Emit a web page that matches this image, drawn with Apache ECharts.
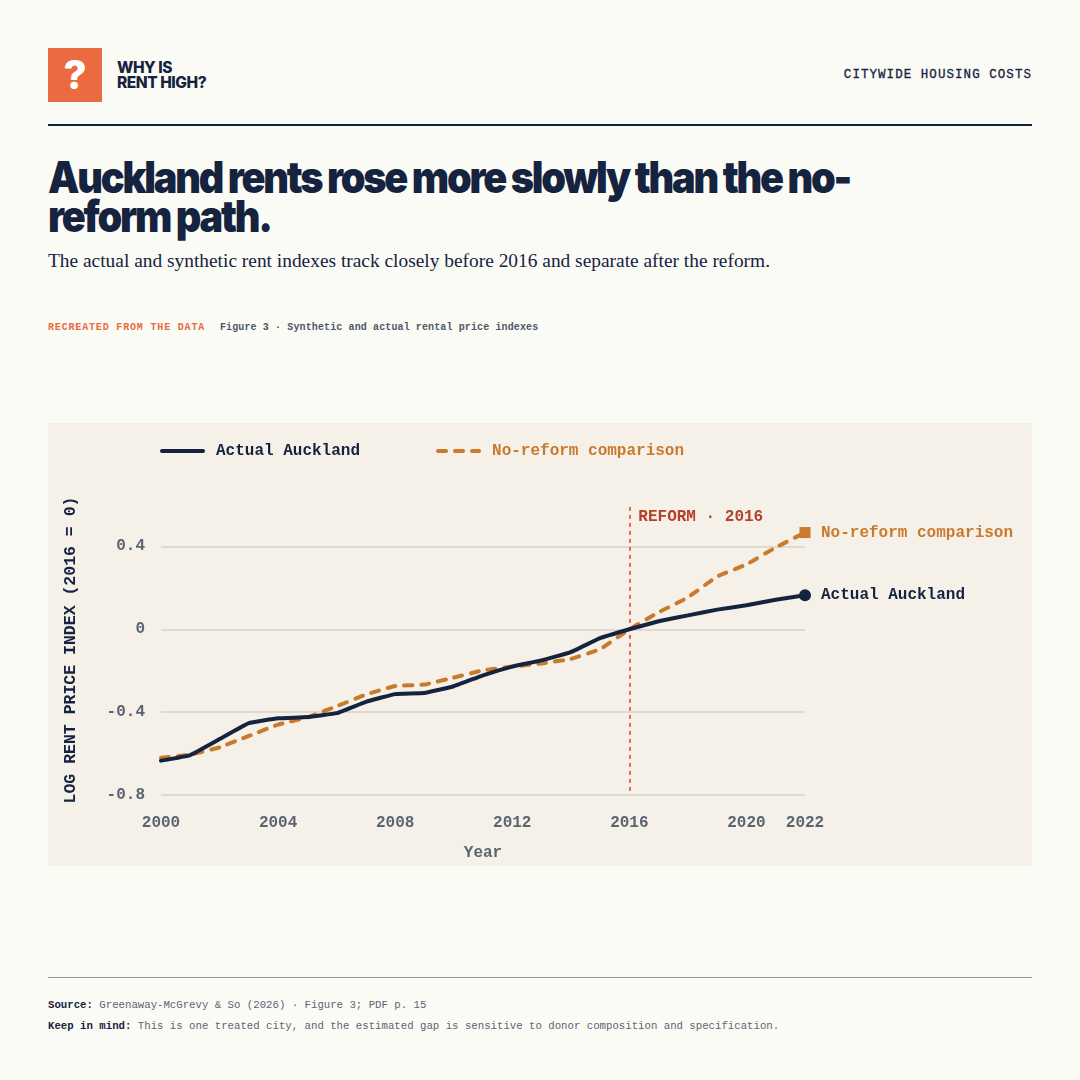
<!DOCTYPE html>
<html><head><meta charset="utf-8">
<script src="https://cdn.jsdelivr.net/npm/echarts@6/dist/echarts.min.js"></script>
<style>
html,body{margin:0;padding:0;background:#FBFBF6;width:1080px;height:1080px;overflow:hidden}
.a{position:absolute;white-space:nowrap}
.m{font-family:"Liberation Mono",monospace}
</style></head><body>
<div class="a" style="left:48px;top:48px;width:54px;height:54px;background:#E96B3F;color:#fff;font:800 40px/54px Inter;text-align:center">?</div>
<div class="a" style="left:117px;top:60px;color:#16233F;font:800 15.5px/15px Inter;letter-spacing:-0.45px">WHY IS<br>RENT HIGH?</div>
<div class="a m" style="right:48px;top:68px;color:#16233F;font-size:12.5px;line-height:15px;letter-spacing:1.05px;-webkit-text-stroke:0.3px #16233F">CITYWIDE HOUSING COSTS</div>
<div class="a" style="left:48px;top:124px;width:984px;height:2px;background:#16233F"></div>
<div class="a" style="left:48px;top:158px;color:#16233F;font:900 44px/39px Inter;letter-spacing:-2.45px;transform:scaleX(0.9);transform-origin:left top">Auckland rents rose more slowly than the no-<br>reform path.</div>
<div class="a" style="left:48px;top:250px;color:#16233F;font:400 19.4px/22px 'Liberation Serif'">The actual and synthetic rent indexes track closely before 2016 and separate after the reform.</div>
<div class="a m" style="left:48px;top:321px;color:#E96B3F;font-size:10px;line-height:13px;letter-spacing:0.83px;font-weight:700">RECREATED FROM THE DATA</div>
<div class="a m" style="left:220px;top:321px;color:#4F5868;font-size:10px;line-height:13px;letter-spacing:0.12px;font-weight:700">Figure 3 · Synthetic and actual rental price indexes</div>
<div class="a" id="chart" style="left:48px;top:423px;width:984px;height:443px;background:#F5F0E8"></div>
<div class="a" style="left:48px;top:977px;width:984px;height:1px;background:#999"></div>
<div class="a m" style="left:48px;top:998px;color:#5B6472;font-size:10.7px;line-height:14px"><b style="color:#16233F">Source:</b> Greenaway-McGrevy &amp; So (2026) · Figure 3; PDF p. 15</div>
<div class="a m" style="left:48px;top:1019px;color:#5B6472;font-size:10.7px;line-height:14px"><b style="color:#16233F">Keep in mind:</b> This is one treated city, and the estimated gap is sensitive to donor composition and specification.</div>
<script>
const years=[2000,2001,2002,2003,2004,2005,2006,2007,2008,2009,2010,2011,2012,2013,2014,2015,2016,2017,2018,2019,2020,2021,2022];
const actual=[-0.634,-0.607,-0.53,-0.453,-0.43,-0.424,-0.405,-0.35,-0.313,-0.308,-0.275,-0.222,-0.18,-0.15,-0.11,-0.043,0,0.039,0.067,0.095,0.116,0.143,0.164];
const noReform=[-0.62,-0.605,-0.57,-0.515,-0.46,-0.425,-0.372,-0.315,-0.274,-0.267,-0.233,-0.198,-0.18,-0.165,-0.143,-0.096,0,0.082,0.154,0.255,0.313,0.395,0.467];
const xTicks=[2000,2004,2008,2012,2016,2020,2022];
const yTicks=[-0.8,-0.4,0,0.4];
const reformYear=2016;
const reformSpan=[-0.78,0.6];
const names=['Actual Auckland','No-reform comparison'];
const NAVY='#16233F',OCHRE='#C97A2D',GREY='#5B6472',MONO='"Liberation Mono",monospace';
function pts(vals,sym,size){return vals.map((v,i)=>i===vals.length-1?{value:[years[i],v],symbol:sym,symbolSize:size}:{value:[years[i],v]});}
const chart=echarts.init(document.getElementById('chart'),null,{renderer:'canvas'});
chart.setOption({
 animation:false,
 textStyle:{fontFamily:MONO},
 grid:{left:113,right:227,top:82,bottom:71,outerBoundsMode:'none'},
 legend:{left:107,top:15,itemWidth:41,itemHeight:14,itemGap:76,
  itemStyle:{opacity:0},
  textStyle:{fontFamily:MONO,fontSize:16,fontWeight:600,padding:[0,0,0,8]},
  data:[{name:names[0],textStyle:{color:NAVY},lineStyle:{width:4,color:NAVY,cap:'round',opacity:1}},
        {name:names[1],textStyle:{color:OCHRE},lineStyle:{width:4,color:OCHRE,type:[8,9],cap:'round',opacity:1}}]},
 xAxis:{type:'value',min:2000,max:2022,interval:4,
  name:'Year',nameLocation:'middle',nameGap:50,
  nameTextStyle:{color:GREY,fontFamily:MONO,fontSize:16,fontWeight:700},
  axisLine:{show:false},axisTick:{show:false,customValues:xTicks},splitLine:{show:false},
  axisLabel:{customValues:xTicks,color:GREY,fontFamily:MONO,fontSize:16,fontWeight:600,margin:20,formatter:v=>String(v),hideOverlap:false}},
 yAxis:{type:'value',min:-0.8,max:0.6,interval:0.4,
  name:'LOG RENT PRICE INDEX (2016 = 0)',nameLocation:'middle',nameGap:82,nameRotate:90,
  nameTextStyle:{color:NAVY,fontFamily:MONO,fontSize:16.5,fontWeight:600},
  axisLine:{show:false},axisTick:{show:false,customValues:yTicks},
  splitLine:{show:true,lineStyle:{color:'#D6D3CA',width:1.5}},
  axisLabel:{customValues:yTicks,color:GREY,fontFamily:MONO,fontSize:16,fontWeight:600,margin:16,padding:[2,0,0,0],formatter:v=>String(+v.toFixed(1))}},
 series:[
  {name:names[1],type:'line',z:2,symbol:'none',smooth:0.08,data:pts(noReform,'rect',11),
   lineStyle:{color:OCHRE,width:4,type:[8,9],cap:'round'},itemStyle:{color:OCHRE},
   endLabel:{show:true,formatter:names[1],color:OCHRE,fontFamily:MONO,fontSize:16,fontWeight:600,distance:16},
   markLine:{silent:true,symbol:'none',z:1,animation:false,
    lineStyle:{color:'#E8694A',width:2,type:[4,4]},
    label:{show:true,formatter:'REFORM · 2016',position:'end',align:'left',verticalAlign:'top',offset:[9,9],color:'#B5402A',fontFamily:MONO,fontSize:16,fontWeight:600},
    data:[[{coord:[reformYear,reformSpan[0]]},{coord:[reformYear,reformSpan[1]]}]]}},
  {name:names[0],type:'line',z:3,symbol:'none',smooth:0.08,data:pts(actual,'circle',12),
   lineStyle:{color:NAVY,width:4,cap:'round'},itemStyle:{color:NAVY},
   endLabel:{show:true,formatter:names[0],color:NAVY,fontFamily:MONO,fontSize:16,fontWeight:600,distance:16}}
 ]
});
</script>
</body></html>
